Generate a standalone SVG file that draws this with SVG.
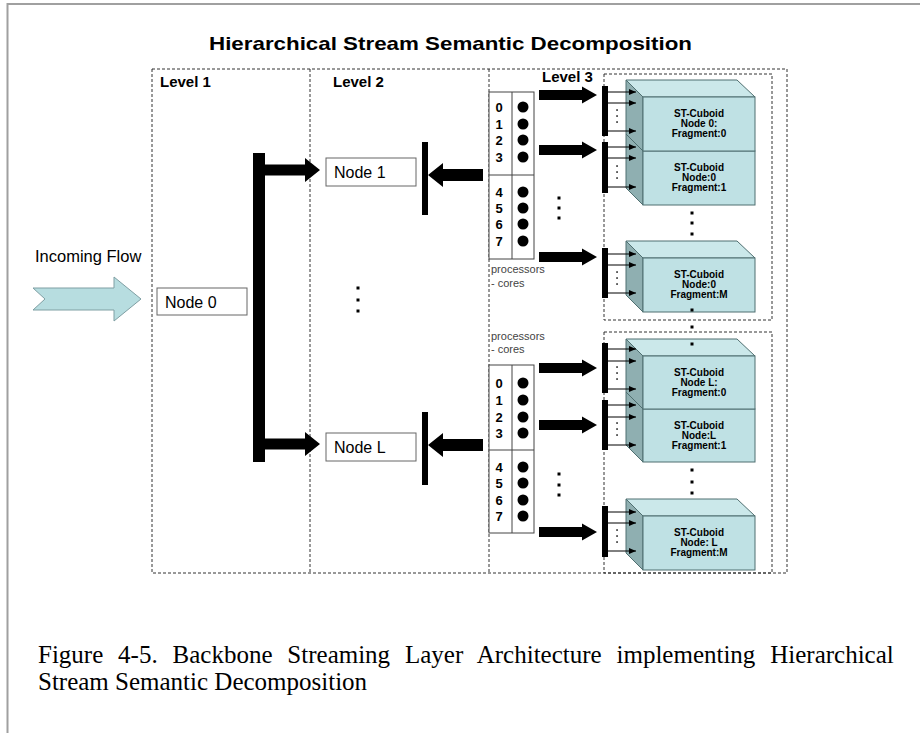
<svg xmlns="http://www.w3.org/2000/svg" width="920" height="733" viewBox="0 0 920 733">
<style>
.dash{fill:none;stroke:#333;stroke-width:1;stroke-dasharray:3,2}
.sans{font-family:"Liberation Sans",Arial,sans-serif}
.lvl{font-family:"Liberation Sans",Arial,sans-serif;font-size:15px;font-weight:bold}
.nb{fill:#fff;stroke:#666;stroke-width:1}
.nt{font-family:"Liberation Sans",Arial,sans-serif;font-size:16px}
.blk{fill:#000}
.pbox{fill:#fff;stroke:#444;stroke-width:1}
.num{font-family:"Liberation Sans",Arial,sans-serif;font-size:13px;font-weight:bold;text-anchor:middle}
.proc{font-family:"Liberation Sans",Arial,sans-serif;font-size:11px;fill:#444}
.front{fill:#bfe1e4;stroke:#4f6f70;stroke-width:1}
.top{fill:#cbe8ea;stroke:#4f6f70;stroke-width:1}
.side{fill:#8fafb1;stroke:#4f6f70;stroke-width:1}
.ct{font-family:"Liberation Sans",Arial,sans-serif;font-size:10px;font-weight:bold;text-anchor:middle}
.thin{stroke:#000;stroke-width:1;marker-end:url(#sa)}
.cap{font-family:"Liberation Serif","Times New Roman",serif;font-size:25px}
</style>
<defs>
<marker id="sa" markerWidth="7" markerHeight="6" refX="7" refY="3" orient="auto" markerUnits="userSpaceOnUse"><path d="M0,0 L7,3 L0,6 z" fill="#000"/></marker>
</defs>
<rect width="920" height="733" fill="#fff"/>
<path d="M7.5,733 V4 H920" fill="none" stroke="#a0a0a0" stroke-width="2"/>
<text class="sans" x="209" y="50" font-size="19" font-weight="bold" textLength="483" lengthAdjust="spacingAndGlyphs">Hierarchical Stream Semantic Decomposition</text>

<g id="levels">
<rect class="dash" x="152" y="69" width="635" height="504"/>
<line class="dash" x1="310" y1="69" x2="310" y2="573"/>
<line class="dash" x1="489" y1="69" x2="489" y2="573"/>
<rect class="dash" x="604" y="74" width="168" height="246"/>
<rect class="dash" x="604" y="332" width="168" height="241"/>
<text class="lvl" x="160" y="87">Level 1</text>
<text class="lvl" x="333" y="87">Level 2</text>
<text class="lvl" x="542" y="82">Level 3</text>
</g>

<g id="incoming-flow">
<polygon points="33,288 114,288 114,277 141,299 114,321 114,310 33,310 45,299" fill="#b7dde0" stroke="#7f9fa3" stroke-width="1"/>
<text class="sans" x="35" y="262" font-size="16.5">Incoming Flow</text>
</g>

<g id="node0">
<rect class="nb" x="157" y="288" width="90" height="27"/>
<text class="nt" x="165" y="307.5">Node 0</text>
</g>
<g id="node1">
<rect class="nb" x="326" y="158" width="90" height="28"/>
<text class="nt" x="334" y="178">Node 1</text>
</g>
<g id="nodeL">
<rect class="nb" x="326" y="433" width="90" height="28"/>
<text class="nt" x="334" y="453">Node L</text>
</g>

<g id="processors-1">
<rect class="pbox" x="489" y="92" width="45" height="167"/>
<line x1="512" y1="92" x2="512" y2="259" stroke="#444"/>
<line x1="489" y1="175" x2="534" y2="175" stroke="#444"/>
<text class="num" x="499" y="111.5">0</text><text class="num" x="499" y="128.5">1</text><text class="num" x="499" y="144.5">2</text><text class="num" x="499" y="161.5">3</text>
<text class="num" x="499" y="196.5">4</text><text class="num" x="499" y="212.5">5</text><text class="num" x="499" y="228.5">6</text><text class="num" x="499" y="245.5">7</text>
<circle cx="523" cy="107" r="5.5"/><circle cx="523" cy="124" r="5.5"/><circle cx="523" cy="140" r="5.5"/><circle cx="523" cy="157" r="5.5"/>
<circle cx="523" cy="192" r="5.5"/><circle cx="523" cy="208" r="5.5"/><circle cx="523" cy="224" r="5.5"/><circle cx="523" cy="241" r="5.5"/>
<text class="proc" x="491" y="273">processors</text>
<text class="proc" x="491" y="287">- cores</text>
</g>

<g id="processors-L">
<rect class="pbox" x="489" y="365" width="45" height="168"/>
<line x1="512" y1="365" x2="512" y2="533" stroke="#444"/>
<line x1="489" y1="450" x2="534" y2="450" stroke="#444"/>
<text class="num" x="499" y="387.5">0</text><text class="num" x="499" y="404.5">1</text><text class="num" x="499" y="421.5">2</text><text class="num" x="499" y="437.5">3</text>
<text class="num" x="499" y="471.5">4</text><text class="num" x="499" y="487.5">5</text><text class="num" x="499" y="504.5">6</text><text class="num" x="499" y="520.5">7</text>
<circle cx="523" cy="383" r="5.5"/><circle cx="523" cy="400" r="5.5"/><circle cx="523" cy="417" r="5.5"/><circle cx="523" cy="433" r="5.5"/>
<circle cx="523" cy="467" r="5.5"/><circle cx="523" cy="483" r="5.5"/><circle cx="523" cy="500" r="5.5"/><circle cx="523" cy="516" r="5.5"/>
<text class="proc" x="491" y="340">processors</text>
<text class="proc" x="491" y="353">- cores</text>
</g>

<g id="cuboid-0-1">
<polygon class="top" points="626,134 737,134 755,151 643,151"/>
<polygon class="side" points="626,134 643,151 643,205 626,188"/>
<rect class="front" x="643" y="151" width="112" height="54"/>
<text class="ct" x="699" y="170.5">ST-Cuboid</text><text class="ct" x="699" y="180.5">Node:0</text><text class="ct" x="699" y="190.5">Fragment:1</text>
</g>
<g id="cuboid-0-0">
<polygon class="top" points="626,80 737,80 755,97 643,97"/>
<polygon class="side" points="626,80 643,97 643,151 626,134"/>
<rect class="front" x="643" y="97" width="112" height="54"/>
<text class="ct" x="699" y="116.5">ST-Cuboid</text><text class="ct" x="699" y="126.5">Node 0:</text><text class="ct" x="699" y="136.5">Fragment:0</text>
</g>
<g id="cuboid-0-M">
<polygon class="top" points="626,241 737,241 755,258 643,258"/>
<polygon class="side" points="626,241 643,258 643,312 626,295"/>
<rect class="front" x="643" y="258" width="112" height="54"/>
<text class="ct" x="699" y="277.5">ST-Cuboid</text><text class="ct" x="699" y="287.5">Node:0</text><text class="ct" x="699" y="297.5">Fragment:M</text>
</g>
<g id="cuboid-L-1">
<polygon class="top" points="626,392 737,392 755,409 643,409"/>
<polygon class="side" points="626,392 643,409 643,462 626,445"/>
<rect class="front" x="643" y="409" width="112" height="53"/>
<text class="ct" x="699" y="428.5">ST-Cuboid</text><text class="ct" x="699" y="438.5">Node:L</text><text class="ct" x="699" y="448.5">Fragment:1</text>
</g>
<g id="cuboid-L-0">
<polygon class="top" points="626,339 737,339 755,356 643,356"/>
<polygon class="side" points="626,339 643,356 643,409 626,392"/>
<rect class="front" x="643" y="356" width="112" height="53"/>
<text class="ct" x="699" y="375.5">ST-Cuboid</text><text class="ct" x="699" y="385.5">Node L:</text><text class="ct" x="699" y="395.5">Fragment:0</text>
</g>
<g id="cuboid-L-M">
<polygon class="top" points="626,499 737,499 755,516 643,516"/>
<polygon class="side" points="626,499 643,516 643,570 626,553"/>
<rect class="front" x="643" y="516" width="112" height="54"/>
<text class="ct" x="699" y="535.5">ST-Cuboid</text><text class="ct" x="699" y="545.5">Node: L</text><text class="ct" x="699" y="555.5">Fragment:M</text>
</g>

<g id="connectors">
<rect class="blk" x="253" y="153" width="12" height="309"/>
<polygon class="blk" points="265,164.5 305,164.5 305,158 320,170 305,182 305,175.5 265,175.5"/>
<polygon class="blk" points="265,438.5 305,438.5 305,432 320,444 305,456 305,449.5 265,449.5"/>
<rect class="blk" x="422" y="142" width="6" height="73"/>
<rect class="blk" x="422" y="412" width="6" height="73"/>
<polygon class="blk" points="483,169 443,169 443,163 428,175 443,187 443,181 483,181"/>
<polygon class="blk" points="483,439 443,439 443,433 428,445 443,457 443,451 483,451"/>
<rect class="blk" x="356.5" y="286.5" width="3" height="3"/>
<rect class="blk" x="356.5" y="298.5" width="3" height="3"/>
<rect class="blk" x="356.5" y="309.5" width="3" height="3"/>
<polygon class="blk" points="539,90 582,90 582,86.5 597,95 582,103.5 582,100 539,100"/>
<polygon class="blk" points="539,145 582,145 582,141.5 597,150 582,158.5 582,155 539,155"/>
<polygon class="blk" points="539,252 582,252 582,248.5 597,257 582,265.5 582,262 539,262"/>
<polygon class="blk" points="539,363 582,363 582,359.5 597,368 582,376.5 582,373 539,373"/>
<polygon class="blk" points="539,420 582,420 582,416.5 597,425 582,433.5 582,430 539,430"/>
<polygon class="blk" points="539,527 582,527 582,523.5 597,532 582,540.5 582,537 539,537"/>
<rect class="blk" x="557.5" y="196.5" width="3" height="3"/>
<rect class="blk" x="557.5" y="206.5" width="3" height="3"/>
<rect class="blk" x="557.5" y="216.5" width="3" height="3"/>
<rect class="blk" x="557.5" y="472.5" width="3" height="3"/>
<rect class="blk" x="557.5" y="483.5" width="3" height="3"/>
<rect class="blk" x="557.5" y="493.5" width="3" height="3"/>
<g id="bar-0-0">
<rect class="blk" x="602" y="86" width="6" height="50"/>
<line class="thin" x1="608" y1="92" x2="636" y2="92"/><line class="thin" x1="608" y1="103" x2="636" y2="103"/><line class="thin" x1="608" y1="131" x2="636" y2="131"/>
<rect class="blk" x="616.3" y="109.3" width="1.5" height="1.5"/><rect class="blk" x="616.3" y="115.3" width="1.5" height="1.5"/><rect class="blk" x="616.3" y="121.3" width="1.5" height="1.5"/>
</g>
<g id="bar-0-1">
<rect class="blk" x="602" y="142" width="6" height="51"/>
<line class="thin" x1="608" y1="147" x2="636" y2="147"/><line class="thin" x1="608" y1="158" x2="636" y2="158"/><line class="thin" x1="608" y1="187" x2="636" y2="187"/>
<rect class="blk" x="616.3" y="165.3" width="1.5" height="1.5"/><rect class="blk" x="616.3" y="171.3" width="1.5" height="1.5"/><rect class="blk" x="616.3" y="177.3" width="1.5" height="1.5"/>
</g>
<g id="bar-0-M">
<rect class="blk" x="602" y="248" width="6" height="50"/>
<line class="thin" x1="608" y1="254" x2="636" y2="254"/><line class="thin" x1="608" y1="265" x2="636" y2="265"/><line class="thin" x1="608" y1="293" x2="636" y2="293"/>
<rect class="blk" x="616.3" y="271.3" width="1.5" height="1.5"/><rect class="blk" x="616.3" y="277.3" width="1.5" height="1.5"/><rect class="blk" x="616.3" y="283.3" width="1.5" height="1.5"/>
</g>
<g id="bar-L-0">
<rect class="blk" x="602" y="343" width="6" height="50"/>
<line class="thin" x1="608" y1="349" x2="636" y2="349"/><line class="thin" x1="608" y1="361" x2="636" y2="361"/><line class="thin" x1="608" y1="389" x2="636" y2="389"/>
<rect class="blk" x="616.3" y="366.3" width="1.5" height="1.5"/><rect class="blk" x="616.3" y="372.3" width="1.5" height="1.5"/><rect class="blk" x="616.3" y="378.3" width="1.5" height="1.5"/>
</g>
<g id="bar-L-1">
<rect class="blk" x="602" y="400" width="6" height="50"/>
<line class="thin" x1="608" y1="405" x2="636" y2="405"/><line class="thin" x1="608" y1="417" x2="636" y2="417"/><line class="thin" x1="608" y1="445" x2="636" y2="445"/>
<rect class="blk" x="616.3" y="422.3" width="1.5" height="1.5"/><rect class="blk" x="616.3" y="428.3" width="1.5" height="1.5"/><rect class="blk" x="616.3" y="434.3" width="1.5" height="1.5"/>
</g>
<g id="bar-L-M">
<rect class="blk" x="602" y="506" width="6" height="51"/>
<line class="thin" x1="608" y1="512" x2="636" y2="512"/><line class="thin" x1="608" y1="523" x2="636" y2="523"/><line class="thin" x1="608" y1="551" x2="636" y2="551"/>
<rect class="blk" x="616.3" y="529.3" width="1.5" height="1.5"/><rect class="blk" x="616.3" y="535.3" width="1.5" height="1.5"/><rect class="blk" x="616.3" y="541.3" width="1.5" height="1.5"/>
</g>
<rect class="blk" x="690.5" y="211.5" width="3" height="3"/>
<rect class="blk" x="690.5" y="221.5" width="3" height="3"/>
<rect class="blk" x="690.5" y="232.5" width="3" height="3"/>
<rect class="blk" x="690.5" y="308.5" width="3" height="3"/>
<rect class="blk" x="690.5" y="325.5" width="3" height="3"/>
<rect class="blk" x="690.5" y="342.5" width="3" height="3"/>
<rect class="blk" x="690.5" y="468.5" width="3" height="3"/>
<rect class="blk" x="690.5" y="480.5" width="3" height="3"/>
<rect class="blk" x="690.5" y="491.5" width="3" height="3"/>
</g>

<g id="caption">
<text class="cap" x="38" y="663" word-spacing="8.6">Figure 4-5. Backbone Streaming Layer Architecture implementing Hierarchical</text>
<text class="cap" x="38" y="690">Stream Semantic Decomposition</text>
</g>
</svg>
